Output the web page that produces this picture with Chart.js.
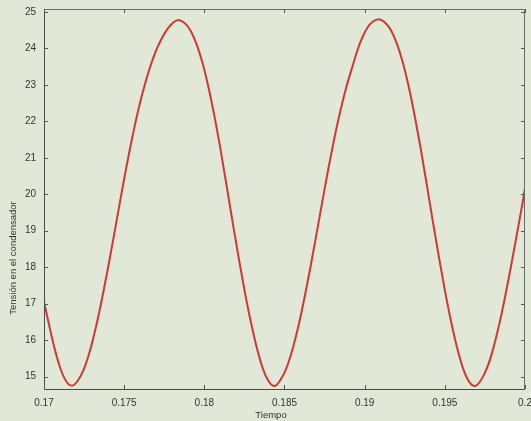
<!DOCTYPE html>
<html lang="es">
<head>
<meta charset="utf-8">
<title>Tensión en el condensador</title>
<script src="https://cdn.jsdelivr.net/npm/chart.js@4.4.0/dist/chart.umd.min.js"></script>
<style>
  html, body { margin: 0; padding: 0; background: #e1e8d8; }
  canvas { display: block; }
</style>
</head>
<body>
<canvas id="grafico" width="531" height="421"></canvas>
<script>
// Datos (tiempo en s, tensión en V)
const tiempo = [
  0.17, 0.17025, 0.170625, 0.171, 0.171375, 0.17175,
  0.172125, 0.1725, 0.172875, 0.17325, 0.173625, 0.174, 0.174375, 0.17475, 0.175125,
  0.1755, 0.175875, 0.17625, 0.176625, 0.177, 0.177375, 0.17775, 0.178063, 0.178375,
  0.17875, 0.179125, 0.1795, 0.179875, 0.18025, 0.180625, 0.181, 0.181375,
  0.18175, 0.182125, 0.1825, 0.182875, 0.18325, 0.183625, 0.184, 0.184375,
  0.18475, 0.185125, 0.1855, 0.185875, 0.18625, 0.186625, 0.187, 0.187375, 0.18775,
  0.188125, 0.1885, 0.188875, 0.18925, 0.189563, 0.189875, 0.190188, 0.1905, 0.190875,
  0.19125, 0.191625, 0.192, 0.192375, 0.19275, 0.193125, 0.1935, 0.193875,
  0.19425, 0.194625, 0.195, 0.195375, 0.19575, 0.196125, 0.1965, 0.196875,
  0.19725, 0.197625, 0.198, 0.198375, 0.19875, 0.199125, 0.1995, 0.199875, 0.2
];
const tension = [
  17.05, 16.55, 15.83, 15.25, 14.88, 14.75,
  14.90, 15.22, 15.72, 16.38, 17.15, 18.00, 18.90, 19.82, 20.72,
  21.55, 22.30, 22.95, 23.50, 23.95, 24.30, 24.56, 24.71, 24.78,
  24.70, 24.50, 24.13, 23.62, 22.95, 22.15, 21.25, 20.27,
  19.27, 18.30, 17.38, 16.55, 15.83, 15.25, 14.88, 14.74,
  14.91, 15.24, 15.75, 16.40, 17.17, 18.02, 18.92, 19.84, 20.74,
  21.57, 22.32, 22.97, 23.52, 23.97, 24.32, 24.58, 24.73, 24.80,
  24.72, 24.51, 24.14, 23.62, 22.95, 22.14, 21.24, 20.26,
  19.26, 18.29, 17.37, 16.54, 15.82, 15.24, 14.87, 14.74,
  14.90, 15.23, 15.74, 16.40, 17.17, 18.02, 18.92, 19.84, 20.18
];

// Marcas y etiquetas de los ejes
const ticksX = [0.17, 0.175, 0.18, 0.185, 0.19, 0.195, 0.2];
const etiquetasX = ['0.17', '0.175', '0.18', '0.185', '0.19', '0.195', '0.2'];
const ticksY = [15, 16, 17, 18, 19, 20, 21, 22, 23, 24, 25];
const tituloX = 'Tiempo';
const tituloY = 'Tensión en el condensador';

const colorFondo = '#e1e8d8';
const colorTexto = '#333333';

// Plugin: fondo, marco con marcas hacia adentro y títulos de los ejes
const marco = {
  id: 'marco',
  beforeDraw(chart) {
    const ctx = chart.ctx;
    ctx.save();
    ctx.fillStyle = colorFondo;
    ctx.fillRect(0, 0, chart.width, chart.height);
    ctx.restore();
  },
  afterDraw(chart) {
    const { ctx, chartArea: a, scales } = chart;
    ctx.save();
    ctx.lineWidth = 1;

    // bordes izquierdo e inferior (más oscuros)
    ctx.strokeStyle = '#4a4a4a';
    ctx.beginPath();
    ctx.moveTo(a.left + 0.5, a.top);
    ctx.lineTo(a.left + 0.5, a.bottom + 0.5);
    ctx.lineTo(a.right, a.bottom + 0.5);
    ctx.stroke();

    // bordes superior y derecho
    ctx.strokeStyle = '#6a6a6a';
    ctx.beginPath();
    ctx.moveTo(a.left, a.top + 0.5);
    ctx.lineTo(a.right - 0.5, a.top + 0.5);
    ctx.lineTo(a.right - 0.5, a.bottom);
    ctx.stroke();

    // marcas hacia adentro en los cuatro lados
    ctx.strokeStyle = '#555555';
    ctx.beginPath();
    ticksX.forEach(v => {
      const px = Math.round(scales.x.getPixelForValue(v)) + 0.5;
      ctx.moveTo(px, a.bottom);
      ctx.lineTo(px, a.bottom - 4);
      ctx.moveTo(px, a.top);
      ctx.lineTo(px, a.top + 4);
    });
    ticksY.forEach(v => {
      const py = Math.round(scales.y.getPixelForValue(v)) + 0.5;
      ctx.moveTo(a.left, py);
      ctx.lineTo(a.left + 4, py);
      ctx.moveTo(a.right, py);
      ctx.lineTo(a.right - 4, py);
    });
    ctx.stroke();

    // títulos
    ctx.fillStyle = colorTexto;
    ctx.font = '9.5px "Liberation Sans", Arial, sans-serif';
    ctx.textAlign = 'center';
    ctx.textBaseline = 'middle';
    ctx.fillText(tituloX, 271, 415);
    ctx.translate(13, 258);
    ctx.rotate(-Math.PI / 2);
    ctx.fillText(tituloY, 0, 0);
    ctx.restore();
  }
};

// Sin relleno extra por las etiquetas de los extremos
function sinRelleno(s) {
  s.paddingTop = 0;
  s.paddingBottom = 0;
  s.paddingLeft = 0;
  s.paddingRight = 0;
}

Chart.defaults.font.family = '"Liberation Sans", Arial, sans-serif';

const ctx = document.getElementById('grafico').getContext('2d');
const grafico = new Chart(ctx, {
  type: 'line',
  data: {
    datasets: [{
      data: tiempo.map((t, i) => ({ x: t, y: tension[i] })),
      borderColor: '#cc3b2f',
      borderWidth: 2,
      pointRadius: 0,
      fill: false,
      cubicInterpolationMode: 'monotone'
    }]
  },
  options: {
    responsive: false,
    animation: false,
    devicePixelRatio: 1,
    layout: { padding: { top: 9, right: 6, left: 0, bottom: 0 } },
    plugins: {
      legend: { display: false },
      tooltip: { enabled: false }
    },
    scales: {
      x: {
        type: 'linear',
        min: 0.17,
        max: 0.2,
        afterBuildTicks: s => { s.ticks = ticksX.map(v => ({ value: v })); },
        afterFit: s => { s.height = 32; sinRelleno(s); },
        grid: { display: false, drawTicks: false },
        border: { display: false },
        ticks: {
          padding: 8,
          color: colorTexto,
          font: { size: 10 },
          maxRotation: 0,
          autoSkip: false,
          callback: v => etiquetasX[ticksX.indexOf(v)] ?? ''
        }
      },
      y: {
        type: 'linear',
        min: 14.66,
        max: 25.08,
        afterBuildTicks: s => { s.ticks = ticksY.map(v => ({ value: v })); },
        afterFit: s => { s.width = 44; sinRelleno(s); },
        grid: { display: false, drawTicks: false },
        border: { display: false },
        ticks: {
          padding: 8,
          color: colorTexto,
          font: { size: 10 },
          callback: v => String(v)
        }
      }
    }
  },
  plugins: [marco]
});
</script>
</body>
</html>
